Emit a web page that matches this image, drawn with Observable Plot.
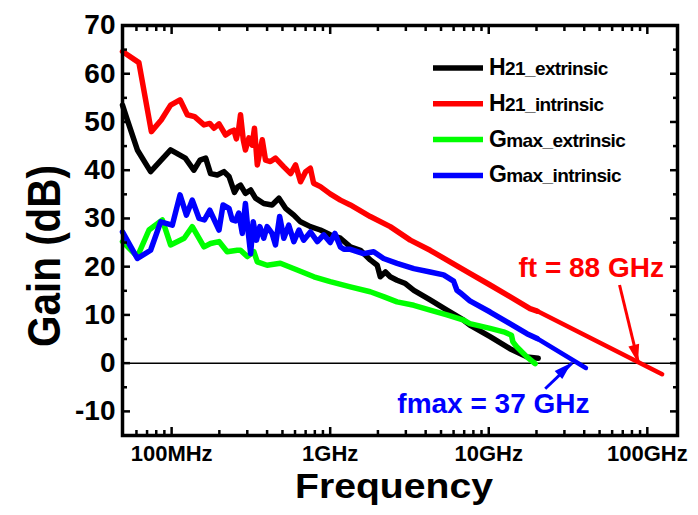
<!DOCTYPE html>
<html><head><meta charset="utf-8">
<script src="https://cdn.jsdelivr.net/npm/d3@7"></script>
<script src="https://cdn.jsdelivr.net/npm/@observablehq/plot@0.6"></script>
<style>html,body{margin:0;padding:0;background:#fff}svg{display:block}</style>
</head><body><div id="chart"></div>
<script>
// ---- Data (frequency in GHz, gain in dB) ----
const h21ExtF = [0.049,0.0526,0.0608,0.0737,0.0985,0.122,0.138,0.151,0.164,0.176,0.194,0.214,0.230,0.249,0.260,0.272,0.292,0.315,0.338,0.381,0.43,0.475,0.523,0.59,0.65,0.75,0.867,1.0,1.16,1.34,1.55,1.79,1.98,2.07,2.23,2.39,2.64,2.98,3.37,4.27,5.45,6.95,7.6,10.2,13.6,17.4,20.5];
const h21ExtG = [53.5,50.4,44.2,39.7,44.2,42.5,40.0,42.1,42.5,39.3,39.0,39.7,38.7,35.4,36.5,36.9,35.2,35.9,34.2,33.1,32.8,34.2,32.1,30.7,29.3,28.3,27.6,26.6,25.9,24.1,23.4,21.4,20.3,17.9,18.9,17.9,17.2,16.5,15.1,13.1,11.0,8.9,7.9,5.5,3.0,1.3,1.0];

const h21IntF = [0.049,0.0622,0.0745,0.086,0.0985,0.113,0.1256,0.1396,0.160,0.174,0.185,0.199,0.219,0.235,0.247,0.256,0.265,0.272,0.283,0.292,0.307,0.322,0.333,0.347,0.373,0.391,0.420,0.452,0.51,0.563,0.605,0.65,0.70,0.75,0.786,0.867,1.0,1.16,1.34,1.79,2.39,3.2,4.27,5.7,7.6,10.2,13.6,18.2,20.2];
const h21IntG = [64.6,62.3,48.0,50.4,53.5,54.6,51.5,51.1,49.4,49.7,48.7,49.6,47.3,48.0,48.3,46.5,48.7,51.5,46.3,44.2,46.7,45.2,48.7,41.1,46.3,42.1,41.8,42.5,40.7,39.3,41.1,37.6,39.7,40.4,37.3,36.6,35.1,33.8,32.8,30.4,28.3,25.5,23.4,21.0,18.6,16.2,13.8,11.3,10.8];

const gmaxExtF = [0.049,0.0608,0.072,0.0874,0.0985,0.12,0.135,0.16,0.176,0.199,0.224,0.259,0.272,0.30,0.33,0.347,0.40,0.485,0.62,0.79,1.0,1.34,1.79,2.17,2.64,3.37,4.27,5.45,6.95,7.6,10.2,12.4,13.9,14.2,15.0,17.4,19.6];
const gmaxExtG = [25.2,22.1,27.6,29.7,24.5,25.9,28.3,24.1,24.8,25.2,23.1,23.4,23.4,22.1,23.1,21.0,20.3,20.7,19.3,17.9,16.9,15.8,14.8,13.8,12.7,12.0,11.0,10.0,8.9,8.2,7.2,6.5,5.8,4.4,3.4,1.3,-0.1];

const gmaxIntF = [0.049,0.0608,0.0737,0.0853,0.101,0.113,0.124,0.135,0.149,0.161,0.174,0.199,0.211,0.230,0.241,0.253,0.265,0.279,0.292,0.303,0.315,0.327,0.343,0.360,0.381,0.40,0.43,0.452,0.48,0.51,0.548,0.59,0.635,0.68,0.75,0.83,0.91,1.0,1.07,1.16,1.22,1.34,1.62,1.88,2.17,2.64,3.37,4.27,5.19,6.0,6.3,6.6,7.6,10.2,13.6,17.4,20.2];
const gmaxIntG = [27.2,21.7,23.4,29.3,28.6,34.9,30.7,33.8,30.0,29.7,31.7,27.6,32.8,32.1,29.7,29.5,31.1,26.9,33.1,27.6,22.7,29.3,25.5,28.3,25.9,28.3,26.9,24.5,30.4,25.9,28.6,25.2,27.6,25.5,27.2,25.2,26.6,25.0,26.9,24.1,23.6,23.6,22.7,23.1,21.7,20.7,19.6,18.9,18.3,17.0,15.1,14.6,12.9,10.6,8.2,6.1,5.1];

// straight-line extrapolations to 0 dB
const ftFitF = [20.2, 124];
const ftFitG = [10.8, -2.3];
const fmaxFitF = [20.2, 41];
const fmaxFitG = [5.1, -1.0];

// annotations
const ftValue = 88, fmaxValue = 33.5;
const annTexts = ["ft = 88 GHz", "fmax = 37 GHz"];
const annTextF = [15.4, 2.65];
const annTextG = [19.7, -8.5];
const arrowFromF = [66.8, 22.7];
const arrowFromG = [16.2, -5.3];
const arrowToF = [ftValue, fmaxValue];
const arrowToG = [0, 0];

// legend
const legendMain = ["H", "H", "G", "G"];
const legendSub = ["21_extrinsic", "21_intrinsic", "max_extrinsic", "max_intrinsic"];
const seriesColors = ["#000000", "#ff0000", "#00ff00", "#0000ff"];

// axes
const xMajor = [0.1, 1, 10, 100];
const xLabels = ["100MHz", "1GHz", "10GHz", "100GHz"];
const xMinor = [0.06,0.07,0.08,0.09,0.2,0.3,0.4,0.5,0.6,0.7,0.8,0.9,2,3,4,5,6,7,8,9,20,30,40,50,60,70,80,90];
const yMajor = [70, 60, 50, 40, 30, 20, 10, 0, -10];
const yMinor = [65, 55, 45, 35, 25, 15, 5, -5];

const rows = (F, G) => F.map((f, i) => ({f, g: G[i]}));
const xLabelMap = new Map(xMajor.map((d, i) => [d, xLabels[i]]));
const annRows = annTexts.map((t, i) => ({t, f: annTextF[i], g: annTextG[i], c: seriesColors[i === 0 ? 1 : 3]}));
const arrowRows = arrowFromF.map((f, i) => ({f1: f, g1: arrowFromG[i], f2: arrowToF[i], g2: arrowToG[i], c: seriesColors[i === 0 ? 1 : 3]}));

const font = "'Liberation Sans', Arial, sans-serif";
const tw = 2.5;
const lw = 5.5;

const chart = Plot.plot({
  width: 698, height: 515,
  marginLeft: 122, marginRight: 21, marginTop: 25, marginBottom: 80,
  style: {fontFamily: font, fontWeight: "bold", background: "#fff", color: "#000", overflow: "visible"},
  x: {type: "log", domain: [0.049, 155], axis: null},
  y: {domain: [-15, 70], axis: null},
  marks: [
    Plot.ruleY([0], {stroke: "#000", strokeWidth: 1.5}),
    Plot.line(rows(h21ExtF, h21ExtG), {x: "f", y: "g", stroke: seriesColors[0], strokeWidth: lw, strokeLinejoin: "round"}),
    Plot.line(rows(h21IntF, h21IntG), {x: "f", y: "g", stroke: seriesColors[1], strokeWidth: lw, strokeLinejoin: "round"}),
    Plot.line(rows(ftFitF, ftFitG), {x: "f", y: "g", stroke: seriesColors[1], strokeWidth: 4.5}),
    Plot.line(rows(gmaxExtF, gmaxExtG), {x: "f", y: "g", stroke: seriesColors[2], strokeWidth: lw, strokeLinejoin: "round"}),
    Plot.line(rows(gmaxIntF, gmaxIntG), {x: "f", y: "g", stroke: seriesColors[3], strokeWidth: lw, strokeLinejoin: "round"}),
    Plot.line(rows(fmaxFitF, fmaxFitG), {x: "f", y: "g", stroke: seriesColors[3], strokeWidth: 4.5}),
    Plot.link(arrowRows, {x1: "f1", y1: "g1", x2: "f2", y2: "g2", stroke: "c", strokeWidth: 3}),
    Plot.text(annRows, {x: "f", y: "g", text: "t", fill: "c", textAnchor: "start", fontSize: 28, fontWeight: "bold", letterSpacing: -0.9}),
    // axes: ticks pointing inward on all four sides
    Plot.axisX({ticks: xMajor, anchor: "bottom", tickSize: -8, tickPadding: 18, strokeWidth: tw, fontSize: 22, tickFormat: d => xLabelMap.get(d), label: null}),
    Plot.axisX({ticks: xMinor, anchor: "bottom", tickSize: -5, strokeWidth: tw, tickFormat: () => "", label: null}),
    Plot.axisX({ticks: xMajor, anchor: "top", tickSize: -8, strokeWidth: tw, tickFormat: () => "", label: null}),
    Plot.axisX({ticks: xMinor, anchor: "top", tickSize: -5, strokeWidth: tw, tickFormat: () => "", label: null}),
    Plot.axisY({ticks: yMajor, anchor: "left", tickSize: -8, tickPadding: 15, strokeWidth: tw, fontSize: 28, tickFormat: d => String(d), label: null}),
    Plot.axisY({ticks: yMinor, anchor: "left", tickSize: -5, strokeWidth: tw, tickFormat: () => "", label: null}),
    Plot.axisY({ticks: yMajor, anchor: "right", tickSize: -8, strokeWidth: tw, tickFormat: () => "", label: null}),
    Plot.axisY({ticks: yMinor, anchor: "right", tickSize: -5, strokeWidth: tw, tickFormat: () => "", label: null}),
    Plot.frame({stroke: "#000", strokeWidth: 3.5})
  ]
});

document.getElementById("chart").appendChild(chart);

// ---- post-render: arrowheads, legend, axis titles ----
const svg = d3.select(chart);
const sx = chart.scale("x"), sy = chart.scale("y");
const ag = svg.append("g");
arrowRows.forEach(a => {
  const x1 = sx.apply(a.f1), y1 = sy.apply(a.g1), x2 = sx.apply(a.f2), y2 = sy.apply(a.g2);
  const ang = Math.atan2(y2 - y1, x2 - x1);
  const L = 18, W = 5.5;
  const bx = x2 - L * Math.cos(ang), by = y2 - L * Math.sin(ang);
  const px = -Math.sin(ang) * W, py = Math.cos(ang) * W;
  ag.append("path")
    .attr("d", `M${x2},${y2}L${bx + px},${by + py}L${bx - px},${by - py}Z`)
    .attr("fill", a.c);
});

const lg = svg.append("g").attr("font-family", font).attr("font-weight", "bold").attr("text-anchor", "start");
const legendTop = 75, legendStep = 35.8;
legendMain.forEach((m, i) => {
  const yb = legendTop + i * legendStep;
  lg.append("line").attr("x1", 433).attr("x2", 483).attr("y1", yb - 7).attr("y2", yb - 7)
    .attr("stroke", seriesColors[i]).attr("stroke-width", 5.5);
  const t = lg.append("text").attr("x", 489).attr("y", yb).attr("fill", "#000")
    .attr("text-anchor", "start").attr("letter-spacing", -0.6);
  t.append("tspan").attr("font-size", 23).text(m);
  t.append("tspan").attr("font-size", 19).text(legendSub[i]);
});

svg.append("text").attr("x", 394).attr("y", 498).attr("text-anchor", "middle")
  .attr("font-family", font).attr("font-weight", "bold").attr("font-size", 35)
  .attr("textLength", 198).attr("lengthAdjust", "spacingAndGlyphs").text("Frequency");

svg.append("text").attr("transform", "translate(60,256) rotate(-90)").attr("text-anchor", "middle")
  .attr("font-family", font).attr("font-weight", "bold").attr("font-size", 47)
  .attr("textLength", 182).attr("lengthAdjust", "spacingAndGlyphs").text("Gain (dB)");
</script>
</body></html>
